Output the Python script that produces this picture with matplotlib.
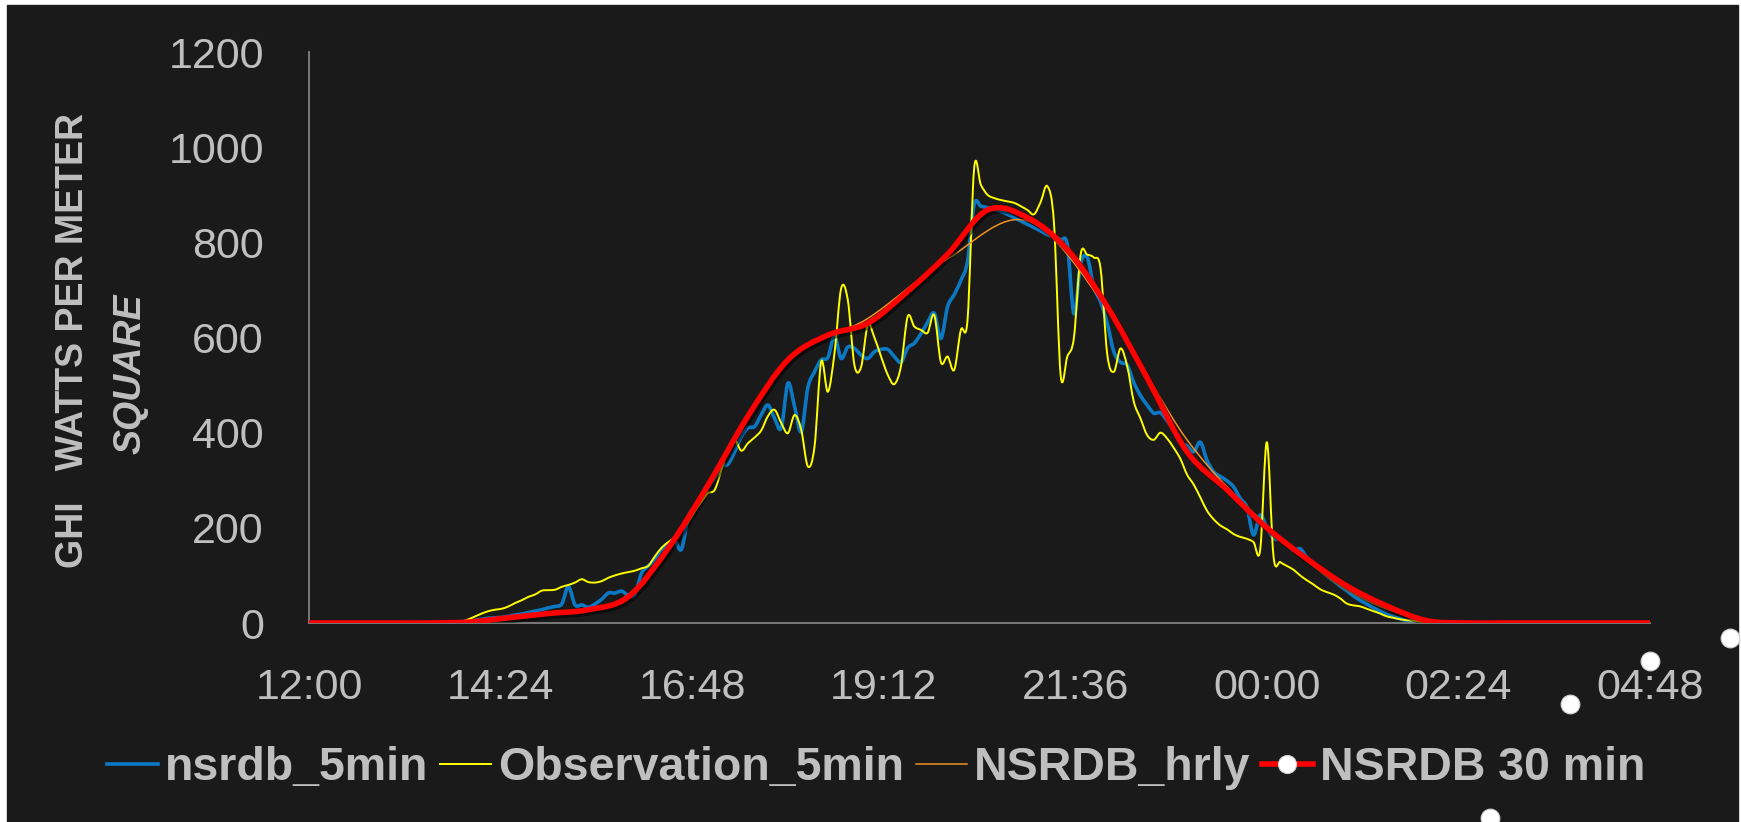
import numpy as np
import matplotlib
matplotlib.use("Agg")
import matplotlib.pyplot as plt
import matplotlib.patheffects as pe
from matplotlib.path import Path
from matplotlib.patches import PathPatch, Rectangle
from matplotlib.lines import Line2D
from matplotlib.ticker import FixedLocator, FuncFormatter

plt.rcParams["font.family"] = ["Liberation Sans", "DejaVu Sans"]

# ---- data (times as fractions of a day, 0.5 = 12:00) ----
t_5min = 0.5 + np.arange(202) * 5 / 1440.0
t_30min = 0.5 + np.arange(35) * 30 / 1440.0
t_hrly = 0.5 + np.arange(18) / 24.0

# nsrdb 5-min GHI, 13:45 .. 02:00, zero outside
nsrdb_5min_day = [
    0, 0, 2, 4, 6, 8, 10, 11, 12, 14, 17, 19,
    22, 25, 28, 32, 35, 40, 76, 38, 38, 33, 40, 50,
    63, 63, 67, 58, 60, 105, 120, 135, 155, 165, 172, 155,
    222, 245, 262, 285, 305, 329, 334, 360, 392, 410, 413, 438,
    458, 430, 410, 504, 455, 402, 495, 528, 553, 558, 602, 556,
    580, 577, 563, 556, 570, 575, 575, 560, 548, 578, 588, 608,
    632, 651, 598, 665, 690, 720, 760, 880, 876, 873, 870, 865,
    859, 852, 845, 838, 831, 824, 816, 812, 805, 795, 650, 755,
    768, 705, 675, 630, 570, 548, 542, 505, 478, 458, 441, 442,
    425, 405, 380, 372, 360, 380, 342, 318, 308, 299, 286, 262,
    243, 185, 227, 200, 178, 175, 165, 152, 156, 138, 125, 112,
    100, 89, 78, 68, 57, 48, 40, 32, 25, 18, 13, 9,
    5, 3, 1, 0,
]
# observed 5-min GHI, 13:45 .. 02:10
obs_5min_day = [
    0, 0, 3, 8, 14, 20, 25, 28, 30, 35, 42, 48,
    55, 60, 68, 69, 70, 76, 80, 85, 92, 86, 85, 88,
    95, 100, 104, 107, 110, 115, 120, 140, 158, 170, 180, 195,
    212, 235, 255, 273, 280, 322, 364, 385, 362, 378, 390, 405,
    435, 448, 420, 399, 437, 406, 329, 371, 549, 486, 567, 703,
    679, 542, 538, 626, 600, 560, 522, 502, 540, 644, 623, 616,
    610, 647, 548, 560, 532, 616, 637, 956, 921, 900, 893, 889,
    886, 883, 876, 868, 859, 885, 918, 840, 521, 560, 600, 774,
    774, 768, 745, 565, 528, 577, 540, 465, 430, 395, 385, 400,
    388, 368, 345, 312, 291, 264, 236, 218, 205, 197, 187, 181,
    177, 170, 154, 380, 140, 128, 120, 112, 100, 90, 81, 71,
    65, 60, 52, 41, 37, 35, 30, 25, 20, 14, 11, 8,
    6, 5, 3, 2, 1, 0,
]
nsrdb_5min = np.concatenate([np.zeros(21), nsrdb_5min_day, np.zeros(202 - 21 - len(nsrdb_5min_day))])
obs_5min = np.concatenate([np.zeros(21), obs_5min_day, np.zeros(202 - 21 - len(obs_5min_day))])

nsrdb_hrly = [0, 0, 2, 18, 60, 290, 550, 640, 765, 845, 660, 385, 205, 70, 5, 0, 0, 0]

nsrdb_30min = [0, 0, 0, 0, 2, 11, 20, 28, 55, 157, 290, 435, 553, 605, 630, 697,
               775, 868, 852, 785, 665, 515, 360, 280, 200, 135, 78, 36, 5,
               0, 0, 0, 0, 0, 0]

# loose 30-min markers that sit below the plot area
stray_t = 0.5 + np.array([14.8, 15.8, 16.8, 17.8]) / 24.0
stray_v = [-410, -170, -80, -32]

labels = ["nsrdb_5min", "Observation_5min", "NSRDB_hrly", "NSRDB 30 min"]
colors = ["#0A78C2", "#FFFF00", "#EE9224", "#FF0000"]
widths = [2.6, 1.4, 1.1, 4.0]

TXT = "#BFBFBF"
BG = "#1A1A1A"


def smooth_path(x, y):
    """Catmull-Rom style bezier path through the points (like a spreadsheet smoothed line)."""
    x = np.asarray(x, float)
    y = np.asarray(y, float)
    n = len(x)
    verts = [(x[0], y[0])]
    codes = [Path.MOVETO]
    for i in range(n - 1):
        i0, i3 = max(i - 1, 0), min(i + 2, n - 1)
        c1 = (x[i] + (x[i + 1] - x[i0]) / 6, y[i] + (y[i + 1] - y[i0]) / 6)
        c2 = (x[i + 1] - (x[i3] - x[i]) / 6, y[i + 1] - (y[i3] - y[i]) / 6)
        verts += [c1, c2, (x[i + 1], y[i + 1])]
        codes += [Path.CURVE4] * 3
    return Path(verts, codes)


W, H = 1741, 822
fig = plt.figure(figsize=(W / 100, H / 100), dpi=100, facecolor="white")
fig.patches.append(Rectangle((7 / W, 0), (1738 - 7) / W, (H - 5) / H,
                             transform=fig.transFigure, color=BG, zorder=-10))

ax = fig.add_axes([309 / W, 1 - 623 / H, (1650 - 309) / W, (623 - 52) / H])
ax.set_facecolor("none")

series = [(t_5min, nsrdb_5min), (t_5min, obs_5min), (t_hrly, nsrdb_hrly), (t_30min, nsrdb_30min)]
for z, ((tx, vy), c, lw) in enumerate(zip(series, colors, widths)):
    patch = PathPatch(smooth_path(tx, vy), facecolor="none", edgecolor=c, lw=lw,
                      capstyle="round", joinstyle="round", zorder=2 + z)
    if z == 3:
        patch.set_path_effects([pe.SimpleLineShadow(offset=(1.5, -2), alpha=0.5, shadow_color="black"),
                                pe.Normal()])
    ax.add_patch(patch)

ax.plot(stray_t, stray_v, "o", ms=13.5, mfc="white", mec="#CFCFCF", mew=0.8,
        clip_on=False, zorder=10)

ax.set_xlim(0.5, 1.2)
ax.set_ylim(0, 1200)
ax.xaxis.set_major_locator(FixedLocator(np.arange(0.5, 1.2001, 0.1)))


def hhmm(v, _):
    m = int(round(v * 1440))
    return f"{(m // 60) % 24:02d}:{m % 60:02d}"


ax.xaxis.set_major_formatter(FuncFormatter(hhmm))
ax.set_yticks(range(0, 1201, 200))
ax.tick_params(axis="both", length=0, colors=TXT, labelsize=31)
ax.tick_params(axis="y", pad=32.5)
ax.tick_params(axis="x", pad=32.5)
for s in ["top", "right"]:
    ax.spines[s].set_visible(False)
for s in ["left", "bottom"]:
    ax.spines[s].set_color("#808080")
    ax.spines[s].set_linewidth(1.3)

fig.text(73.5 / W, 1 - 341 / H, "GHI   WATTS PER METER", rotation=90, ha="center", va="center",
         color=TXT, fontsize=27, fontweight="bold")
fig.text(131 / W, 1 - 374 / H, "SQUARE", rotation=90, ha="center", va="center",
         color=TXT, fontsize=27, fontweight="bold", fontstyle="italic")

handles = [Line2D([], [], color=c, lw=lw) for c, lw in zip(colors[:3], widths[:3])]
handles.append(Line2D([], [], color=colors[3], lw=widths[3], marker="o", ms=13,
                      mfc="white", mec="#CFCFCF", mew=0.8))
leg = fig.legend(handles, labels, loc="center", bbox_to_anchor=(876 / W, 1 - 768 / H),
                 ncol=4, frameon=False, handlelength=1.1, handletextpad=0.15,
                 columnspacing=0.25, prop={"size": 33.5, "weight": "bold"})
for t in leg.get_texts():
    t.set_color(TXT)

fig.savefig("out.png", dpi=100, facecolor=fig.get_facecolor())
